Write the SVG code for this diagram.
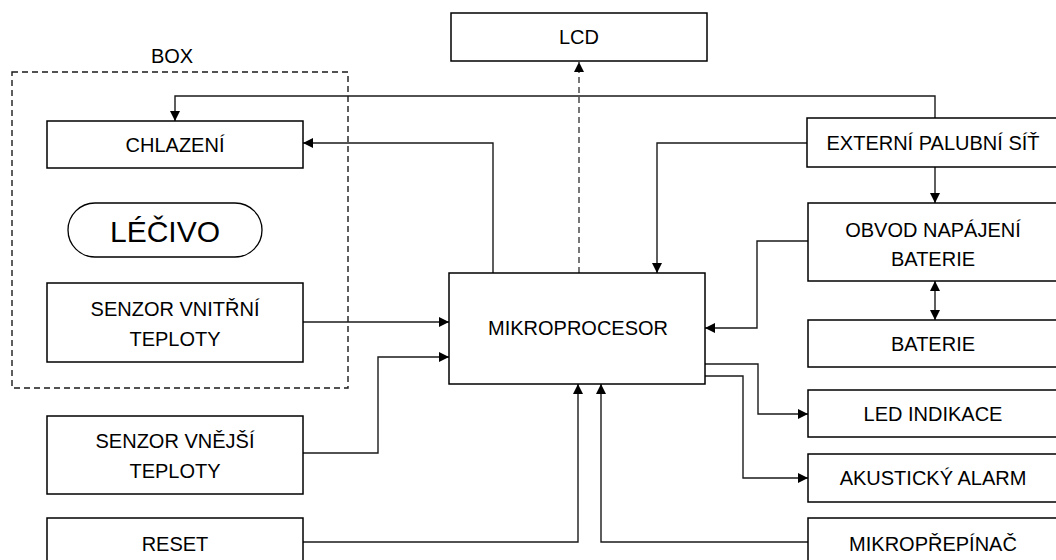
<svg xmlns="http://www.w3.org/2000/svg" width="1056" height="560" viewBox="0 0 1056 560">
<style>
.box{fill:#fff;stroke:#000;stroke-width:1.5}
.t{font-family:"Liberation Sans",Arial,sans-serif;font-size:20px;fill:#000;text-anchor:middle}
.c{fill:none;stroke:#1a1a1a;stroke-width:1.4}
.dash{fill:none;stroke:#1a1a1a;stroke-width:1.4;stroke-dasharray:6 4}
.lcd{fill:none;stroke:#555;stroke-width:1.6;stroke-dasharray:6 4}
</style>
<defs>
<marker id="ah" viewBox="0 0 10 10" refX="10" refY="5" markerWidth="10" markerHeight="10" markerUnits="userSpaceOnUse" orient="auto">
<path d="M0,0 L10,5 L0,10 z" fill="#000"/>
</marker>
<marker id="as" viewBox="0 0 10 10" refX="0" refY="5" markerWidth="10" markerHeight="10" markerUnits="userSpaceOnUse" orient="auto">
<path d="M10,0 L0,5 L10,10 z" fill="#000"/>
</marker>
</defs>
<rect width="1056" height="560" fill="#fff"/>

<g id="box-container">
<rect class="dash" x="12" y="72" width="336" height="316"/>
<text class="t" x="172" y="63">BOX</text>
</g>

<g id="connectors">
<polyline class="c" points="935,118 935,96 175,96 175,121" marker-end="url(#ah)"/>
<polyline class="c" points="493,273 493,143 303,143" marker-end="url(#ah)"/>
<line class="lcd" x1="579" y1="273" x2="579" y2="62" marker-end="url(#ah)"/>
<polyline class="c" points="807,143 657,143 657,273" marker-end="url(#ah)"/>
<line class="c" x1="935" y1="167" x2="935" y2="203" marker-end="url(#ah)"/>
<line class="c" x1="935" y1="281" x2="935" y2="320" marker-start="url(#as)" marker-end="url(#ah)"/>
<polyline class="c" points="808,241 757,241 757,328 705,328" marker-end="url(#ah)"/>
<polyline class="c" points="705,364 758,364 758,414 808,414" marker-end="url(#ah)"/>
<polyline class="c" points="705,376 743,376 743,478 808,478" marker-end="url(#ah)"/>
<polyline class="c" points="808,542 601,542 601,384" marker-end="url(#ah)"/>
<polyline class="c" points="303,542 578,542 578,384" marker-end="url(#ah)"/>
<line class="c" x1="303" y1="322" x2="449" y2="322" marker-end="url(#ah)"/>
<polyline class="c" points="303,453 378,453 378,357 449,357" marker-end="url(#ah)"/>
</g>

<g id="lcd">
<rect class="box" x="451" y="13" width="256" height="48"/>
<text class="t" x="579" y="44">LCD</text>
</g>
<g id="chlazeni">
<rect class="box" x="47" y="121" width="256" height="47"/>
<text class="t" x="175" y="152">CHLAZENÍ</text>
</g>
<g id="lecivo">
<rect x="68" y="203" width="194" height="54" rx="27" ry="27" fill="#fff" stroke="#000" stroke-width="1.3"/>
<text class="t" x="165" y="242" style="font-size:30px">LÉČIVO</text>
</g>
<g id="senzor-vnitrni">
<rect class="box" x="47" y="283" width="256" height="79"/>
<text class="t" x="175" y="316">SENZOR VNITŘNÍ</text>
<text class="t" x="175" y="346">TEPLOTY</text>
</g>
<g id="senzor-vnejsi">
<rect class="box" x="47" y="416" width="256" height="78"/>
<text class="t" x="175" y="448">SENZOR VNĚJŠÍ</text>
<text class="t" x="175" y="478">TEPLOTY</text>
</g>
<g id="reset">
<rect class="box" x="47" y="518" width="256" height="50"/>
<text class="t" x="175" y="551">RESET</text>
</g>
<g id="mikroprocesor">
<rect class="box" x="449" y="273" width="256" height="111"/>
<text class="t" x="578" y="335">MIKROPROCESOR</text>
</g>
<g id="externi">
<rect class="box" x="807" y="118" width="256" height="49"/>
<text class="t" x="933" y="150">EXTERNÍ PALUBNÍ SÍŤ</text>
</g>
<g id="obvod">
<rect class="box" x="808" y="203" width="256" height="78"/>
<text class="t" x="933" y="237">OBVOD NAPÁJENÍ</text>
<text class="t" x="933" y="266">BATERIE</text>
</g>
<g id="baterie">
<rect class="box" x="808" y="320" width="256" height="47"/>
<text class="t" x="933" y="351">BATERIE</text>
</g>
<g id="led">
<rect class="box" x="808" y="390" width="256" height="47"/>
<text class="t" x="933" y="421">LED INDIKACE</text>
</g>
<g id="akusticky">
<rect class="box" x="808" y="454" width="256" height="48"/>
<text class="t" x="933" y="485">AKUSTICKÝ ALARM</text>
</g>
<g id="mikroprepinac">
<rect class="box" x="808" y="518" width="256" height="50"/>
<text class="t" x="933" y="551">MIKROPŘEPÍNAČ</text>
</g>
</svg>
